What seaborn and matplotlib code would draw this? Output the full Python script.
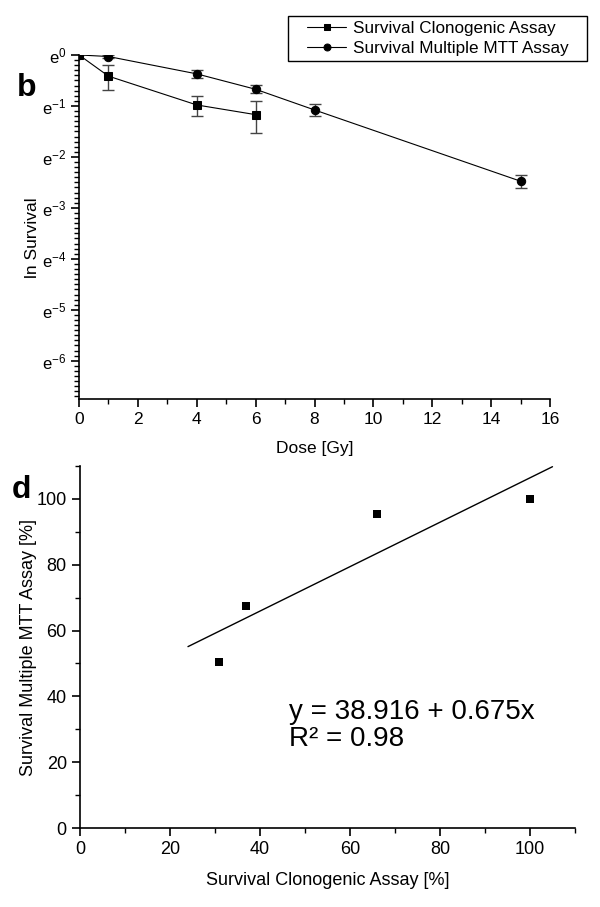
import numpy as np
import pandas as pd
import seaborn as sns
import matplotlib
matplotlib.use("Agg")
import matplotlib.pyplot as plt
from matplotlib.patches import Rectangle
from matplotlib.ticker import FixedLocator, MultipleLocator

# panel b: survival fraction vs dose
dose_clono = [0, 1, 4, 6]
surv_clono = [1.0, 0.66, 0.375, 0.31]
err_clono = [0.0, 0.16, 0.075, 0.095]

dose_mtt = [0, 1, 4, 6, 8, 15]
surv_mtt = [1.0, 0.97, 0.69, 0.51, 0.34, 0.084]
err_mtt = [0.0, 0.03, 0.05, 0.04, 0.04, 0.011]

# panel d: clonogenic vs MTT [%]
pct_clono = [31, 37, 66, 100]
pct_mtt = [50.5, 67.5, 95.5, 100]
fit_intercept = 38.916
fit_slope = 0.675
fit_range = [24, 105]

sns.set_style("ticks")
plt.rcParams['font.family'] = ['Liberation Sans', 'DejaVu Sans']
plt.rcParams['mathtext.fontset'] = 'custom'
plt.rcParams['mathtext.rm'] = 'Liberation Sans'
plt.rcParams['mathtext.default'] = 'regular'
plt.rcParams['axes.linewidth'] = 1.2
plt.rcParams['xtick.direction'] = 'out'
plt.rcParams['ytick.direction'] = 'out'
for k in ['text.color', 'axes.labelcolor', 'xtick.color', 'ytick.color', 'axes.edgecolor']:
    plt.rcParams[k] = 'black'

fig = plt.figure(figsize=(6, 9.07), dpi=100)
ax1 = fig.add_axes([0.1317, 0.5601, 0.785, 0.3793])
ax2 = fig.add_axes([0.1333, 0.0871, 0.825, 0.3991])

# ---- top panel
df_c = pd.DataFrame({'dose': dose_clono, 'surv': surv_clono})
df_m = pd.DataFrame({'dose': dose_mtt, 'surv': surv_mtt})
ax1.errorbar(dose_clono[1:], surv_clono[1:], yerr=err_clono[1:], fmt='none',
             ecolor='#444444', elinewidth=1.0, capsize=4, capthick=1.0)
ax1.errorbar(dose_mtt[1:], surv_mtt[1:], yerr=err_mtt[1:], fmt='none',
             ecolor='#444444', elinewidth=1.0, capsize=4, capthick=1.0)
sns.lineplot(data=df_c, x='dose', y='surv', ax=ax1, color='black', lw=0.8,
             marker='s', markersize=5.5, markeredgecolor='black',
             label='Survival Clonogenic Assay')
sns.lineplot(data=df_m, x='dose', y='surv', ax=ax1, color='black', lw=0.8,
             marker='o', markersize=6, markeredgecolor='black',
             label='Survival Multiple MTT Assay')

ax1.set_yscale('log', base=np.e)
ax1.set_ylim(np.exp(-6.75), 1.0)
ax1.set_xlim(0, 16)
ax1.yaxis.set_major_locator(FixedLocator([np.exp(-k) for k in range(7)]))
ax1.set_yticklabels([r'$e^{-%d}$' % k if k else r'$e^{0}$' for k in range(7)])
ax1.yaxis.set_minor_locator(FixedLocator(np.exp(-np.arange(0, 6.76, 0.1))))
ax1.yaxis.set_minor_formatter(plt.NullFormatter())
ax1.xaxis.set_major_locator(MultipleLocator(2))
ax1.xaxis.set_minor_locator(MultipleLocator(1))
ax1.tick_params(which='major', length=6, width=1.2, labelsize=12.5)
ax1.tick_params(which='minor', length=3.5, width=1.0)
ax1.tick_params(axis='y', which='major', labelsize=12, pad=3)
for s in ['top', 'right']:
    ax1.spines[s].set_visible(False)
ax1.set_xlabel('Dose [Gy]', fontsize=12.5, labelpad=10)
ax1.set_ylabel('ln Survival', fontsize=12.5)
ax1.yaxis.set_label_coords(-0.083, 0.47)
leg = ax1.legend(loc='center', bbox_to_anchor=(438 / 600, 1 - 38.5 / 907),
                 bbox_transform=fig.transFigure, fontsize=12.3, frameon=False,
                 handlelength=2.3, handletextpad=0.4, labelspacing=0.25)
for h in leg.legend_handles:
    h.set_markersize(5)
fig.patches.append(Rectangle((288 / 600, 1 - 61 / 907), 299 / 600, 45 / 907,
                             transform=fig.transFigure, fill=False,
                             edgecolor='black', linewidth=1.0))
fig.text(27 / 600, 1 - 88 / 907, 'b', fontsize=23, fontweight='bold',
         ha='center', va='center')

# ---- bottom panel
df_d = pd.DataFrame({'clono': pct_clono, 'mtt': pct_mtt})
sns.scatterplot(data=df_d, x='clono', y='mtt', ax=ax2, marker='s', s=40,
                color='black', edgecolor='black', linewidth=0)
fx = np.array(fit_range, dtype=float)
ax2.plot(fx, fit_intercept + fit_slope * fx, color='black', lw=1.0)
ax2.set_xlim(0, 110)
ax2.set_ylim(0, 110)
ax2.xaxis.set_major_locator(MultipleLocator(20))
ax2.xaxis.set_minor_locator(MultipleLocator(10))
ax2.yaxis.set_major_locator(MultipleLocator(20))
ax2.yaxis.set_minor_locator(MultipleLocator(10))
ax2.tick_params(which='major', length=6, width=1.2, labelsize=13)
ax2.tick_params(which='minor', length=3.5, width=1.0)
for s in ['top', 'right']:
    ax2.spines[s].set_visible(False)
ax2.set_xlabel('Survival Clonogenic Assay [%]', fontsize=13, labelpad=10)
ax2.set_ylabel('Survival Multiple MTT Assay [%]', fontsize=13, labelpad=0)
ax2.text(46.5, 31, 'y = 38.916 + 0.675x\nR\u00b2 = 0.98', fontsize=20,
         ha='left', va='center', linespacing=1.05)
fig.text(21 / 600, 1 - 490 / 907, 'd', fontsize=23, fontweight='bold',
         ha='center', va='center')

fig.savefig('out.png', dpi=100)
